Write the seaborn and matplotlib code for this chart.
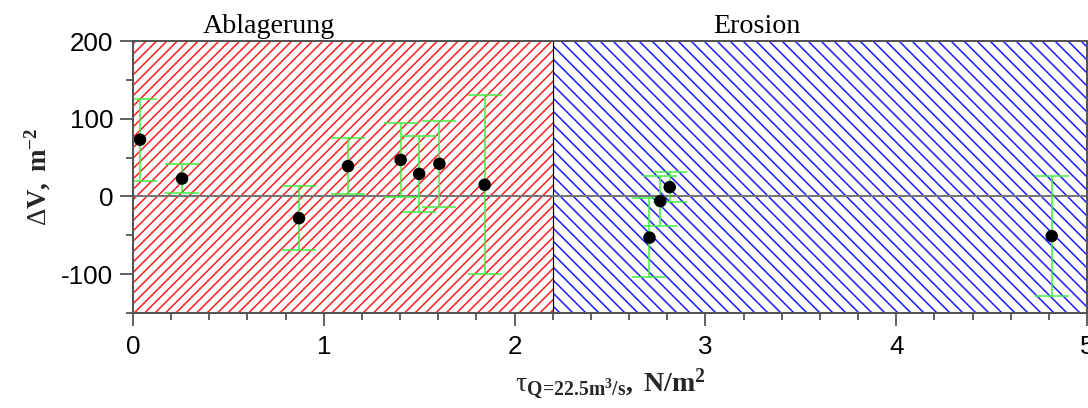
import matplotlib
matplotlib.use("Agg")
import matplotlib.pyplot as plt
import matplotlib.transforms as mtransforms
from matplotlib.ticker import MultipleLocator, FixedLocator
import pandas as pd
import seaborn as sns

# Shear stress (N/m^2) and volume change with its uncertainty
tau = [0.037, 0.257, 0.87, 1.127, 1.403, 1.50, 1.606, 1.843, 2.707, 2.764, 2.813, 4.815]
delta_v = [73, 23, -28, 39, 47, 29, 42, 15, -53, -6, 12, -51]
delta_v_err = [53, 19, 41, 36, 48, 49, 55, 115, 51, 32, 19, 77]

# Deposition / erosion zones
zone_names = ["Ablagerung", "Erosion"]
zone_bounds = [0.0, 2.2, 5.0]
zone_label_x = [0.71, 3.27]
zone_colors = ["#ff1a1a", "#1a1aff"]
zone_hatches = ["/////", "\\\\\\\\"]

x_ticks = [0, 1, 2, 3, 4, 5]
y_ticks = [-100, 0, 100, 200]

DPI = 156
W, H = 1088, 408
PT = 72 / DPI  # points per pixel

sns.set_style("ticks")
plt.rcParams.update({
    "font.family": ["Liberation Sans", "DejaVu Sans"],
    "mathtext.fontset": "custom",
    "mathtext.rm": "Liberation Serif",
    "mathtext.it": "Liberation Serif:italic",
    "mathtext.bf": "Liberation Serif:bold",
    "hatch.linewidth": 1.5 * PT,
})

df = pd.DataFrame({"tau": tau, "dv": delta_v, "err": delta_v_err})

fig = plt.figure(figsize=(W / DPI, H / DPI), dpi=DPI)
ax = fig.add_axes([133 / W, 1 - 313 / H, (1087 - 133) / W, (313 - 41) / H])

# hatched zones
for lo, hi, col, hat in zip(zone_bounds[:-1], zone_bounds[1:], zone_colors, zone_hatches):
    ax.axvspan(lo, hi, facecolor="white", edgecolor=col, hatch=hat, lw=0, zorder=0)
ax.axvline(zone_bounds[1], color="black", lw=1.2 * PT, zorder=1)
ax.axhline(0, color="#777777", lw=2 * PT, zorder=1)

# error bars and points
ax.errorbar(df["tau"], df["dv"], yerr=df["err"], fmt="none", ecolor="#3ef03e",
            elinewidth=1.5 * PT, capsize=17 * PT, capthick=1.5 * PT, zorder=3)
sns.scatterplot(data=df, x="tau", y="dv", ax=ax, color="black", s=(12.5 * PT) ** 2,
                edgecolor="none", linewidth=0, zorder=5, legend=False)

ax.set_xlim(0, 5)
ax.set_ylim(-150, 200)
ax.xaxis.set_major_locator(FixedLocator(x_ticks))
ax.yaxis.set_major_locator(FixedLocator(y_ticks))
ax.xaxis.set_minor_locator(MultipleLocator(0.2))
ax.yaxis.set_minor_locator(MultipleLocator(50))
ax.set_xticklabels([str(t) for t in x_ticks])
ax.set_yticklabels([str(t) for t in y_ticks])
ax.tick_params(which="major", direction="out", length=13 * PT, width=1.5 * PT,
               color="#333333", labelsize=26 * PT, labelcolor="black")
ax.tick_params(which="minor", direction="out", length=7 * PT, width=1.5 * PT, color="#333333")
ax.tick_params(axis="x", which="major", pad=9 * PT)
ax.tick_params(axis="y", which="major", pad=7 * PT)

for side, sp in ax.spines.items():
    sp.set_visible(True)
    sp.set_color("#555555")
    sp.set_linewidth(2 * PT)
    sp.set_zorder(6)

ax.set_xlabel(r"$\mathrm{\tau}_{\mathbf{Q\!=\!22.5m^{3}/s}}\mathbf{,\ N/m^{2}}$",
              fontsize=28 * PT, labelpad=8 * PT)
ax.set_ylabel(r"$\mathrm{\Delta}\mathbf{V,\ m^{-2}}$", fontsize=27 * PT, labelpad=8 * PT)

trans = mtransforms.blended_transform_factory(ax.transData, ax.transAxes)
for name, xpos in zip(zone_names, zone_label_x):
    ax.text(xpos, 1 + 8 / 272, name, transform=trans, ha="center", va="baseline",
            fontsize=28 * PT, family="Liberation Serif", color="black")

fig.savefig("out.png", dpi=DPI)
